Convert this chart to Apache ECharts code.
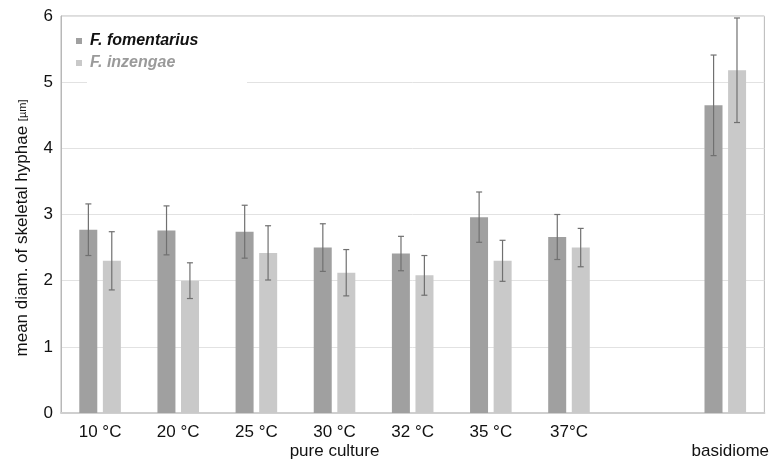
<!DOCTYPE html>
<html>
<head>
<meta charset="utf-8">
<script src="https://cdn.jsdelivr.net/npm/echarts@6/dist/echarts.min.js"></script>
<style>
html,body{margin:0;padding:0;background:#fff;}
#chart{width:772px;height:461px;}
</style>
</head>
<body>
<div id="chart"></div>
<script>
// ---- data ----
var categories = ['10 °C', '20 °C', '25 °C', '30 °C', '32 °C', '35 °C', '37°C', '', 'basidiome'];
var groupLabels = ['', '', '', 'pure culture', '', '', '', '', ''];
var seriesNames = ['F. fomentarius', 'F. inzengae'];
var fomentariusMean = [2.77, 2.76, 2.74, 2.50, 2.41, 2.96, 2.66, null, 4.65];
var fomentariusErr  = [0.39, 0.37, 0.40, 0.36, 0.26, 0.38, 0.34, null, 0.76];
var inzengaeMean    = [2.30, 2.00, 2.42, 2.12, 2.08, 2.30, 2.50, null, 5.18];
var inzengaeErr     = [0.44, 0.27, 0.41, 0.35, 0.30, 0.31, 0.29, null, 0.79];
var yTicks = [0, 1, 2, 3, 4, 5, 6];

// ---- chart ----
var FONT = '"Liberation Sans", Arial, Helvetica, sans-serif';
var DARK = '#a0a0a0', LIGHT = '#c9c9c9', ERR = '#707070';
var BAR_W = 18, OFFSET = 11.7;

function errData(means, errs) {
  var out = [];
  for (var i = 0; i < means.length; i++) {
    if (means[i] != null) out.push([i, means[i], errs[i]]);
  }
  return out;
}
function errRender(off) {
  return function (params, api) {
    var i = api.value(0), v = api.value(1), e = api.value(2);
    var top = api.coord([i, v + e]);
    var bot = api.coord([i, v - e]);
    var x = top[0] + off;
    var cap = 3;
    var st = { stroke: ERR, lineWidth: 1.2 };
    return {
      type: 'group',
      children: [
        { type: 'line', shape: { x1: x, y1: top[1], x2: x, y2: bot[1] }, style: st },
        { type: 'line', shape: { x1: x - cap, y1: top[1], x2: x + cap, y2: top[1] }, style: st },
        { type: 'line', shape: { x1: x - cap, y1: bot[1], x2: x + cap, y2: bot[1] }, style: st }
      ]
    };
  };
}

var xLabels = categories.map(function (c, i) {
  if (c === 'basidiome') return { value: '\n' + c, textStyle: { padding: [0, 0, 0, 10] } };
  return groupLabels[i] ? c + '\n' + groupLabels[i] : c;
});

var chart = echarts.init(document.getElementById('chart'), null, { renderer: 'canvas' });
chart.setOption({
  animation: false,
  textStyle: { fontFamily: FONT },
  grid: { left: 61, right: 7, top: 16, bottom: 47, show: true, borderColor: '#b8b8b8', borderWidth: 1, backgroundColor: 'transparent' },
  legend: {
    orient: 'vertical',
    left: 71, top: 28,
    itemWidth: 6, itemHeight: 6, itemGap: 6,
    icon: 'rect',
    data: [
      { name: seriesNames[0], textStyle: { color: '#111' } },
      { name: seriesNames[1], textStyle: { color: '#9a9a9a' } }
    ],
    textStyle: { fontFamily: FONT, fontSize: 16, fontWeight: 'bold', fontStyle: 'italic', lineHeight: 16, padding: [0, 0, 0, 3] }
  },
  graphic: [
    { type: 'rect', z: 1, shape: { x: 87, y: 74, width: 160, height: 16 }, style: { fill: '#fff' } }
  ],
  xAxis: {
    type: 'category',
    data: xLabels,
    axisLine: { show: true, lineStyle: { color: '#cfcfcf', width: 2 } },
    axisTick: { show: false },
    axisLabel: { interval: 0, margin: 10, color: '#111', fontSize: 17, lineHeight: 19, fontFamily: FONT }
  },
  yAxis: {
    type: 'value',
    min: 0, max: 6, interval: 1,
    name: '{a|mean diam. of skeletal hyphae }{b|[µm]}',
    nameLocation: 'middle',
    nameGap: 30,
    nameRotate: 90,
    nameTextStyle: {
      color: '#111', fontFamily: FONT, padding: [0, 27, 0, 0],
      rich: { a: { fontSize: 17, color: '#111', fontFamily: FONT }, b: { fontSize: 11, color: '#111', fontFamily: FONT } }
    },
    axisLine: { show: true, lineStyle: { color: '#b8b8b8', width: 1 } },
    axisTick: { show: false },
    axisLabel: {
      margin: 8, color: '#111', fontSize: 17, fontFamily: FONT,
      formatter: function (v) { return yTicks.indexOf(v) >= 0 ? String(v) : ''; }
    },
    splitLine: { show: true, lineStyle: { color: '#e2e2e2', width: 1 } }
  },
  series: [
    { name: seriesNames[0], type: 'bar', data: fomentariusMean, barWidth: BAR_W, barGap: '31%', itemStyle: { color: DARK } },
    { name: seriesNames[1], type: 'bar', data: inzengaeMean, barWidth: BAR_W, barGap: '31%', itemStyle: { color: LIGHT } },
    { type: 'custom', name: 'errA', data: errData(fomentariusMean, fomentariusErr), renderItem: errRender(-OFFSET), encode: { x: 0, y: 1 }, z: 5, silent: true },
    { type: 'custom', name: 'errB', data: errData(inzengaeMean, inzengaeErr), renderItem: errRender(OFFSET), encode: { x: 0, y: 1 }, z: 5, silent: true }
  ]
});
</script>
</body>
</html>
